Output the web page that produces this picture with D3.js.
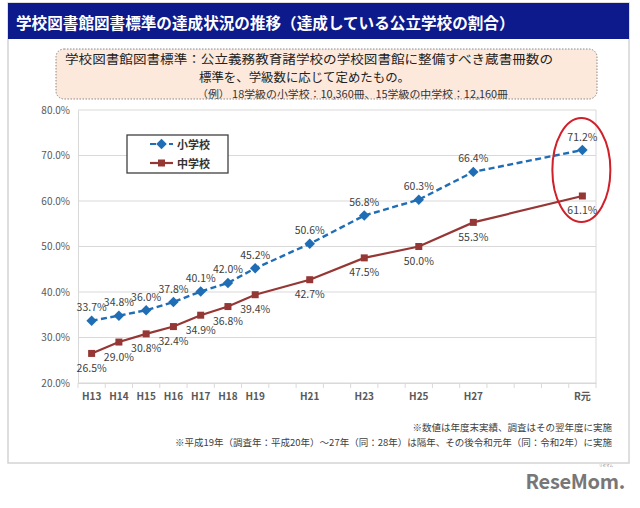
<!DOCTYPE html>
<html><head><meta charset="utf-8">
<script src="https://cdn.jsdelivr.net/npm/d3@7"></script>
<style>
html,body{margin:0;padding:0;background:#fff;}
svg text{font-family:"Noto Sans CJK JP","Noto Sans",sans-serif;}
</style>
</head><body>
<svg id="chart" width="640" height="508"></svg>
<script>
// ---- data ----
const categories = ["H13","H14","H15","H16","H17","H18","H19","H20","H21","H22","H23","H24","H25","H26","H27","H28","H29","H30","R元"];
const tickLabels = ["H13","H14","H15","H16","H17","H18","H19","","H21","","H23","","H25","","H27","","","","R元"];
const years = ["H13","H14","H15","H16","H17","H18","H19","H21","H23","H25","H27","R元"];
const elementary = [33.7,34.8,36.0,37.8,40.1,42.0,45.2,50.6,56.8,60.3,66.4,71.2];
const juniorHigh = [26.5,29.0,30.8,32.4,34.9,36.8,39.4,42.7,47.5,50.0,55.3,61.1];
const yTicks = [20,30,40,50,60,70,80];
const seriesNames = ["小学校","中学校"];
const titleText = "学校図書館図書標準の達成状況の推移（達成している公立学校の割合）";
const noteLines = ["学校図書館図書標準：公立義務教育諸学校の学校図書館に整備すべき蔵書冊数の","標準を、学級数に応じて定めたもの。","（例） 18学級の小学校：10,360冊、15学級の中学校：12,160冊"];
const footnotes = ["※数値は年度末実績、調査はその翌年度に実施","※平成19年（調査年：平成20年）～27年（同：28年）は隔年、その後令和元年（同：令和2年）に実施"];

const svg = d3.select("#chart");
const blue = "#1f6db5", red = "#953735";

// card
svg.append("rect").attr("x",8).attr("y",3).attr("width",621).attr("height",460)
  .attr("fill","#fff").attr("stroke","#d4d4d4").attr("stroke-width",1.5);
svg.append("rect").attr("x",8).attr("y",3).attr("width",621).attr("height",36).attr("fill","#0c1a8c");
svg.append("text").attr("x",16).attr("y",22).attr("dominant-baseline","central")
  .attr("fill","#fff").attr("font-size",15.6).attr("font-weight","bold").text(titleText);

// callout
svg.append("rect").attr("x",56).attr("y",49).attr("width",541).attr("height",50).attr("rx",8)
  .attr("fill","#fde9dc").attr("stroke","#8a8a8a").attr("stroke-width",1).attr("stroke-dasharray","1.5,1.5");
const noteSpec = [[65,59,12.2,488,"#222"],[199,76.8,12.2,211,"#222"],[197,93,10.2,311,"#333"]];
noteSpec.forEach(([nx,ny,fs,tl,col],i)=>{
  svg.append("text").attr("x",nx).attr("y",ny).attr("dominant-baseline","central").attr("font-size",fs)
    .attr("fill",col).attr("textLength",tl).attr("lengthAdjust","spacingAndGlyphs").text(noteLines[i]);
});

// scales
const x = d3.scaleBand().domain(categories).range([78,596]);
const y = d3.scaleLinear().domain([20,80]).range([383,110]);
const cx = c => x(c) + x.bandwidth()/2;

// grid
svg.append("g").selectAll("line").data(yTicks).join("line")
  .attr("x1",78).attr("x2",596).attr("y1",d=>y(d)).attr("y2",d=>y(d))
  .attr("stroke","#d9d9d9").attr("stroke-width",1);
svg.append("line").attr("x1",596).attr("x2",596).attr("y1",y(80)).attr("y2",y(20)).attr("stroke","#d9d9d9");

// y axis
const yAxis = svg.append("g").attr("transform","translate(78,0)")
  .call(d3.axisLeft(y).tickValues(yTicks).tickSize(0).tickPadding(8).tickFormat(d=>d.toFixed(1)+"%"));
yAxis.select(".domain").attr("stroke","#d9d9d9");
yAxis.selectAll("text").attr("font-size",10).attr("fill","#595959").attr("font-family","'Noto Sans',sans-serif");

// x axis
const xAxis = svg.append("g").attr("transform","translate(0,383)")
  .call(d3.axisBottom(x).tickSize(0).tickPadding(10).tickFormat((d,i)=>tickLabels[i]));
xAxis.select(".domain").attr("stroke","#d9d9d9");
xAxis.selectAll("text").attr("font-size",10).attr("fill","#595959").attr("font-weight","bold").attr("font-family","'Noto Sans',sans-serif");
const bounds = categories.map(c=>x(c)).concat([x(categories[categories.length-1])+x.bandwidth()]);
svg.append("g").selectAll("line").data(bounds).join("line")
  .attr("x1",d=>d).attr("x2",d=>d).attr("y1",383).attr("y2",388).attr("stroke","#d9d9d9");

// lines
const line = d3.line().x((d,i)=>cx(years[i])).y(d=>y(d));
svg.append("path").datum(elementary).attr("d",line).attr("fill","none")
  .attr("stroke",blue).attr("stroke-width",2.4).attr("stroke-dasharray","6,3.5");
svg.append("path").datum(juniorHigh).attr("d",line).attr("fill","none")
  .attr("stroke",red).attr("stroke-width",2.2);

const diamond = d3.symbol().type(d3.symbolDiamond2).size(70);
svg.append("g").selectAll("path").data(elementary).join("path")
  .attr("d",diamond).attr("transform",(d,i)=>`translate(${cx(years[i])},${y(d)})`).attr("fill",blue);
svg.append("g").selectAll("rect").data(juniorHigh).join("rect")
  .attr("x",(d,i)=>cx(years[i])-3.5).attr("y",d=>y(d)-3.5).attr("width",7).attr("height",7).attr("fill",red);

// labels
svg.append("g").selectAll("text").data(elementary).join("text")
  .attr("x",(d,i)=>cx(years[i])).attr("y",d=>y(d)-14).attr("text-anchor","middle").attr("dominant-baseline","central")
  .attr("font-size",10.5).attr("fill","#404040").attr("font-family","'Noto Sans',sans-serif").text(d=>d.toFixed(1)+"%");
svg.append("g").selectAll("text").data(juniorHigh).join("text")
  .attr("x",(d,i)=>cx(years[i])).attr("y",d=>y(d)+14).attr("text-anchor","middle").attr("dominant-baseline","central")
  .attr("font-size",10.5).attr("fill","#404040").attr("font-family","'Noto Sans',sans-serif").text(d=>d.toFixed(1)+"%");

// legend
const lg = svg.append("g");
lg.append("rect").attr("x",127).attr("y",135).attr("width",101).attr("height",38).attr("fill","#fff").attr("stroke","#404040").attr("stroke-width",1.3);
[[blue,"6,3.5",144],[red,null,163]].forEach(([col,dash,ly],k)=>{
  lg.append("line").attr("x1",150).attr("x2",173).attr("y1",ly).attr("y2",ly).attr("stroke",col).attr("stroke-width",2.2).attr("stroke-dasharray",dash);
  if(k===0) lg.append("path").attr("d",diamond).attr("transform",`translate(161.5,${ly})`).attr("fill",col);
  else lg.append("rect").attr("x",158).attr("y",ly-3.5).attr("width",7).attr("height",7).attr("fill",col);
  lg.append("text").attr("x",177).attr("y",ly).attr("dominant-baseline","central").attr("font-size",11).attr("font-weight","bold").attr("fill","#333").text(seriesNames[k]);
});

// highlight ellipse
svg.append("ellipse").attr("cx",cx("R元")-1).attr("cy",170).attr("rx",29).attr("ry",52)
  .attr("fill","none").attr("stroke","#d0202a").attr("stroke-width",2);

// footnotes
svg.append("text").attr("x",612).attr("y",427).attr("text-anchor","end").attr("dominant-baseline","central").attr("font-size",9.5).attr("fill","#404040").text(footnotes[0]);
svg.append("text").attr("x",612).attr("y",442).attr("text-anchor","end").attr("dominant-baseline","central").attr("font-size",9.5).attr("fill","#404040").text(footnotes[1]);

// logo
svg.append("text").attr("x",625).attr("y",489).attr("text-anchor","end").attr("font-size",20).attr("font-weight","bold")
  .attr("fill","#777").attr("font-family","'Liberation Sans',Arial,sans-serif").attr("letter-spacing","-0.3").text("ReseMom.");
svg.append("text").attr("x",606).attr("y",465).attr("text-anchor","middle").attr("dominant-baseline","central").attr("font-size",3.5).attr("fill","#777").text("リセマム");
</script>
</body></html>
